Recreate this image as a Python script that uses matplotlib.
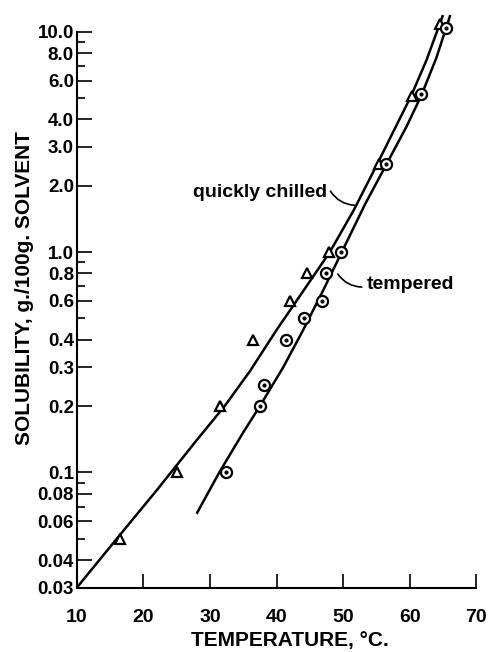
import matplotlib
matplotlib.use("Agg")
import matplotlib.pyplot as plt
from matplotlib.ticker import FixedLocator, FixedFormatter, NullFormatter

# ---- data ----
chilled_t = [16.5, 25.0, 31.5, 36.5, 42.0, 44.6, 47.9, 55.4, 60.4, 64.6]
chilled_s = [0.05, 0.10, 0.20, 0.40, 0.60, 0.80, 1.00, 2.50, 5.10, 10.8]

tempered_t = [32.4, 37.5, 38.1, 41.4, 44.1, 46.8, 47.4, 49.7, 56.5, 61.7, 65.5]
tempered_s = [0.10, 0.20, 0.25, 0.40, 0.50, 0.60, 0.80, 1.00, 2.50, 5.20, 10.4]

# smooth curves as drawn in the figure
chilled_curve_t = [10.0, 16.0, 22.0, 28.0, 32.2, 36.0, 40.0, 44.0, 48.0, 51.6, 55.1, 57.5, 60.2, 62.5, 65.0]
chilled_curve_s = [0.030, 0.050, 0.083, 0.140, 0.20, 0.288, 0.443, 0.665, 1.00, 1.55, 2.50, 3.50, 5.10, 7.40, 11.9]

tempered_curve_t = [28.0, 31.4, 35.0, 37.5, 41.0, 44.0, 47.0, 49.8, 53.3, 56.5, 59.5, 61.7, 64.0, 66.1]
tempered_curve_s = [0.065, 0.10, 0.152, 0.20, 0.30, 0.443, 0.67, 1.00, 1.65, 2.50, 3.70, 5.10, 7.60, 11.9]

y_major = [0.03, 0.04, 0.06, 0.08, 0.1, 0.2, 0.3, 0.4, 0.6, 0.8, 1.0, 2.0, 3.0, 4.0, 6.0, 8.0, 10.0]
y_major_labels = ["0.03", "0.04", "0.06", "0.08", "0.1", "0.2", "0.3", "0.4", "0.6", "0.8",
                  "1.0", "2.0", "3.0", "4.0", "6.0", "8.0", "10.0"]
y_minor = [0.05, 0.07, 0.09, 0.5, 0.7, 0.9, 5.0, 7.0, 9.0]
x_major = [10, 20, 30, 40, 50, 60, 70]
x_labels = ["10", "20", "30", "40", "50", "60", "70"]

plt.rcParams['font.family'] = ['Liberation Sans', 'DejaVu Sans']
plt.rcParams['font.weight'] = 'bold'

fig = plt.figure(figsize=(4.89, 6.52), dpi=100)
ax = fig.add_axes([0.157, 0.0986, 0.817, 0.8528])

ax.set_yscale('log')
ax.set_xlim(10, 70)
ax.set_ylim(0.03, 10.0)

lw = 1.8
ax.plot(chilled_curve_t, chilled_curve_s, color='black', lw=lw, clip_on=False,
        solid_capstyle='butt', solid_joinstyle='round')
ax.plot(tempered_curve_t, tempered_curve_s, color='black', lw=lw, clip_on=False,
        solid_capstyle='butt', solid_joinstyle='round')

ax.plot(chilled_t, chilled_s, linestyle='none', marker='^', markersize=7,
        markerfacecolor='white', markeredgecolor='black', markeredgewidth=1.6, clip_on=False, zorder=3)
ax.plot(tempered_t, tempered_s, linestyle='none', marker='o', markersize=8,
        markerfacecolor='white', markeredgecolor='black', markeredgewidth=1.6, clip_on=False, zorder=3)
ax.plot(tempered_t, tempered_s, linestyle='none', marker='o', markersize=2,
        markerfacecolor='black', markeredgecolor='black', clip_on=False, zorder=4)

# spines
ax.spines['top'].set_visible(False)
ax.spines['right'].set_visible(False)
ax.spines['left'].set_linewidth(1.5)
ax.spines['bottom'].set_linewidth(1.5)

ax.yaxis.set_major_locator(FixedLocator(y_major))
ax.yaxis.set_major_formatter(FixedFormatter(y_major_labels))
ax.yaxis.set_minor_locator(FixedLocator(y_minor))
ax.yaxis.set_minor_formatter(NullFormatter())
ax.xaxis.set_major_locator(FixedLocator(x_major))
ax.xaxis.set_major_formatter(FixedFormatter(x_labels))

ax.tick_params(axis='y', which='major', direction='in', length=11, width=1.2, labelsize=13.5, pad=2)
ax.tick_params(axis='y', which='minor', direction='in', length=6, width=1.2)
ax.tick_params(axis='x', which='major', direction='in', length=10, width=1.2, labelsize=14, pad=15)
for lab in ax.get_xticklabels() + ax.get_yticklabels():
    lab.set_fontweight('bold')

ax.set_xlabel("TEMPERATURE, °C.", fontsize=15, fontweight='bold', va='top')
ax.xaxis.set_label_coords(0.533, -0.078)
ax.set_ylabel("SOLUBILITY, g./100g. SOLVENT", fontsize=15, fontweight='bold', va='center')
ax.yaxis.set_label_coords(-0.13, 0.539)

# annotations
ax.text(27.4, 1.87, "quickly chilled", fontsize=14, fontweight='bold', va='center', ha='left')
ax.annotate("", xy=(51.7, 1.63), xytext=(48.1, 1.89),
            arrowprops=dict(arrowstyle='-', color='black', lw=1.2,
                            connectionstyle='arc3,rad=0.25', shrinkA=0, shrinkB=0))
ax.text(53.5, 0.71, "tempered", fontsize=14, fontweight='bold', va='center', ha='left')
ax.annotate("", xy=(49.2, 0.795), xytext=(52.8, 0.694),
            arrowprops=dict(arrowstyle='-', color='black', lw=1.2,
                            connectionstyle='arc3,rad=-0.25', shrinkA=0, shrinkB=0))

fig.savefig("out.png", dpi=100)
